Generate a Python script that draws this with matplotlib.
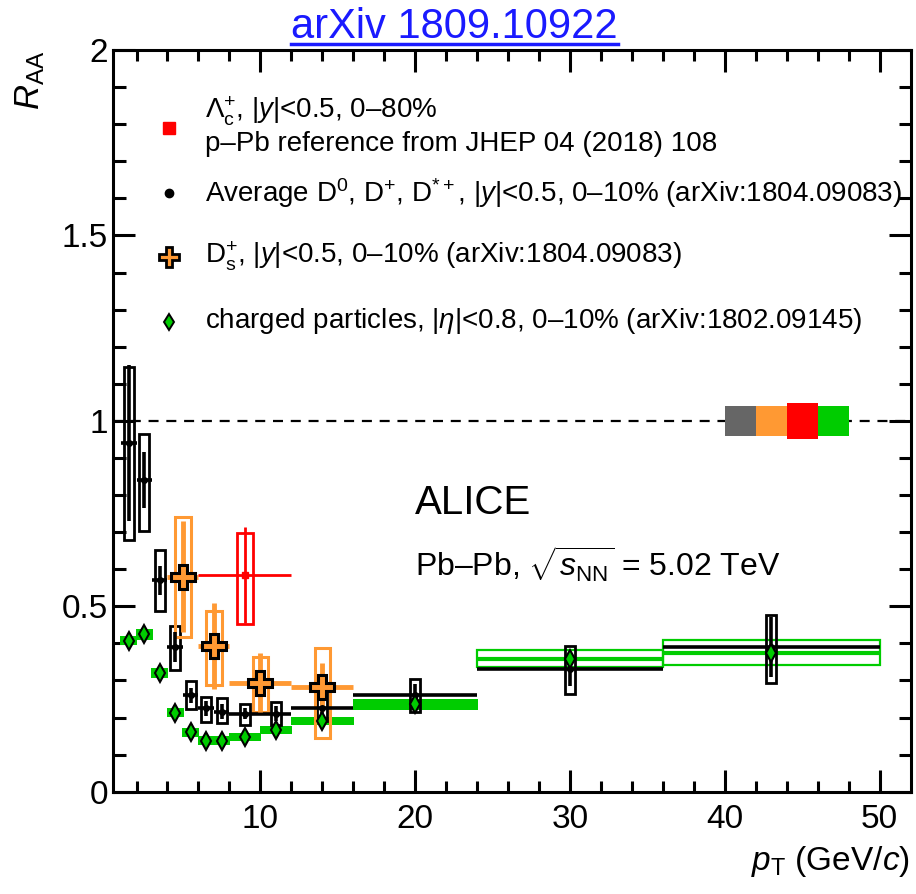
import numpy as np
import matplotlib.pyplot as plt
from matplotlib.patches import Rectangle
from matplotlib.lines import Line2D

plt.rcParams['font.family'] = ['Liberation Sans', 'DejaVu Sans']
plt.rcParams['mathtext.fontset'] = 'custom'
plt.rcParams['mathtext.rm'] = 'Liberation Sans'
plt.rcParams['mathtext.it'] = 'Liberation Sans:italic'
plt.rcParams['mathtext.bf'] = 'Liberation Sans:bold'

ORANGE = '#ff9933'
GREEN = '#00cc00'
RED = '#ff0000'
GRAY = '#666666'

# average D0, D+, D*+ (0-10%)
d_pt = np.array([1.5, 2.5, 3.5, 4.5, 5.5, 6.5, 7.5, 9, 11, 14, 20, 30, 43])
d_lo = np.array([1, 2, 3, 4, 5, 6, 7, 8, 10, 12, 16, 24, 36])
d_hi = np.array([2, 3, 4, 5, 6, 7, 8, 10, 12, 16, 24, 36, 50])
d_raa = np.array([0.94, 0.84, 0.57, 0.39, 0.26, 0.225, 0.216, 0.21, 0.21, 0.225, 0.26, 0.33, 0.39])
d_stat = np.array([0.21, 0.075, 0.04, 0.04, 0.02, 0.02, 0.02, 0.015, 0.02, 0.02, 0.03, 0.045, 0.08])
d_syst_dn = np.array([0.26, 0.136, 0.083, 0.063, 0.038, 0.036, 0.032, 0.029, 0.031, 0.035, 0.044, 0.066, 0.097])
d_syst_up = np.array([0.205, 0.124, 0.083, 0.058, 0.038, 0.031, 0.036, 0.027, 0.031, 0.05, 0.045, 0.064, 0.086])

# Ds+ (0-10%)
ds_pt = np.array([5, 7, 10, 14])
ds_lo = np.array([4, 6, 8, 12])
ds_hi = np.array([6, 8, 12, 16])
ds_raa = np.array([0.58, 0.394, 0.294, 0.283])
ds_stat = np.array([0.15, 0.116, 0.08, 0.065])
ds_syst_dn = np.array([0.164, 0.106, 0.078, 0.139])
ds_syst_up = np.array([0.161, 0.094, 0.068, 0.104])

# Lambda_c+ (0-80%)
lc_pt = np.array([9])
lc_lo = np.array([6])
lc_hi = np.array([12])
lc_raa = np.array([0.584])
lc_stat = np.array([0.13])
lc_syst_dn = np.array([0.132])
lc_syst_up = np.array([0.114])

# charged particles (0-10%)
ch_pt = np.array([1.5, 2.5, 3.5, 4.5, 5.5, 6.5, 7.5, 9, 11, 14, 20, 30, 43])
ch_lo = np.array([1, 2, 3, 4, 5, 6, 7, 8, 10, 12, 16, 24, 36])
ch_hi = np.array([2, 3, 4, 5, 6, 7, 8, 10, 12, 16, 24, 36, 50])
ch_raa = np.array([0.407, 0.424, 0.319, 0.213, 0.160, 0.1375, 0.1375, 0.147, 0.166, 0.191, 0.236, 0.359, 0.375])
ch_syst = np.array([0.0125, 0.0135, 0.0135, 0.0125, 0.012, 0.012, 0.012, 0.011, 0.010, 0.011, 0.0145, 0.023, 0.0335])
ch_open = np.array([False] * 11 + [True, True])

# normalisation uncertainties around unity
norm_lo = np.array([40, 42, 44, 46])
norm_hi = np.array([42, 44, 46, 48])
norm_unc = np.array([0.04, 0.04, 0.048, 0.04])
norm_col = [GRAY, ORANGE, RED, GREEN]

fig = plt.figure(figsize=(9.16, 8.94), dpi=100)
ax = fig.add_axes([0.1237, 0.1144, 0.8705, 0.8296])
ax.set_xlim(0.5, 52)
ax.set_ylim(0, 2)

ax.axhline(1, color='black', lw=1.6, dashes=(4.5, 3.5), zorder=1)

# normalisation boxes
for lo, hi, u, c in zip(norm_lo, norm_hi, norm_unc, norm_col):
    ax.add_patch(Rectangle((lo, 1 - u), hi - lo, 2 * u, facecolor=c, edgecolor='none', zorder=2))

# charged particle systematics
for x, lo, hi, r, s, op in zip(ch_pt, ch_lo, ch_hi, ch_raa, ch_syst, ch_open):
    if op:
        ax.add_patch(Rectangle((lo, r - s), hi - lo, 2 * s, facecolor='none', edgecolor=GREEN, lw=1.6, zorder=3))
        ax.plot([lo, hi], [r, r], color=GREEN, lw=3, zorder=3, solid_capstyle='butt')
    else:
        ax.add_patch(Rectangle((lo - 0.05, r - s), hi - lo + 0.1, 2 * s, facecolor=GREEN, edgecolor='none', zorder=3))

# D meson systematics and statistics
for x, r, dn, up in zip(d_pt, d_raa, d_syst_dn, d_syst_up):
    ax.add_patch(Rectangle((x - 0.33, r - dn), 0.66, dn + up, facecolor='none', edgecolor='black', lw=2, zorder=4))
ax.errorbar(d_pt, d_raa, xerr=[d_pt - d_lo, d_hi - d_pt], yerr=d_stat, fmt='o', color='black',
            ms=4, elinewidth=2.6, capsize=0, zorder=5)

# Ds
for x, r, dn, up in zip(ds_pt, ds_raa, ds_syst_dn, ds_syst_up):
    ax.add_patch(Rectangle((x - 0.5, r - dn), 1.0, dn + up, facecolor='none', edgecolor=ORANGE, lw=2.2, zorder=4))
ax.errorbar(ds_pt, ds_raa, xerr=[ds_pt - ds_lo, ds_hi - ds_pt], yerr=ds_stat, fmt='none', ecolor=ORANGE,
            elinewidth=3.5, capsize=0, zorder=5)

# Lambda_c
for x, r, dn, up in zip(lc_pt, lc_raa, lc_syst_dn, lc_syst_up):
    ax.add_patch(Rectangle((x - 0.5, r - dn), 1.0, dn + up, facecolor='none', edgecolor=RED, lw=2, zorder=4))
ax.errorbar(lc_pt, lc_raa, xerr=[lc_pt - lc_lo, lc_hi - lc_pt], yerr=lc_stat, fmt='s', color=RED,
            ms=4, elinewidth=2, capsize=0, zorder=5)

ax.plot(ch_pt, ch_raa, 'd', ms=9, mfc=GREEN, mec='black', mew=1.5, zorder=7)
ax.plot(ds_pt, ds_raa, 'P', ms=17, mfc=ORANGE, mec='black', mew=2.2, zorder=8)

# axes styling
for sp in ax.spines.values():
    sp.set_linewidth(2.2)
ax.set_xticks([10, 20, 30, 40, 50])
ax.set_xticks(np.arange(2, 52, 2), minor=True)
ax.set_yticks([0, 0.5, 1, 1.5, 2])
ax.set_yticklabels(['0', '0.5', '1', '1.5', '2'])
ax.set_yticks(np.arange(0, 2.01, 0.1), minor=True)
ax.tick_params(which='both', direction='in', top=True, right=True, width=2.2, labelsize=24)
ax.tick_params(axis='x', which='major', length=16, pad=9)
ax.tick_params(axis='x', which='minor', length=8)
ax.tick_params(axis='y', which='major', length=16, pad=4)
ax.tick_params(axis='y', which='minor', length=9)

fig.text(0.033, 0.944, r'$R_{\rm AA}$', rotation=90, ha='center', va='top', fontsize=25)
fig.text(0.9934, 0.0268, r'$p_{\rm T}$ (GeV/$c$)', ha='right', va='baseline', fontsize=24)

# legend
lx, tx = 0.1845, 0.2238
fig.add_artist(Line2D([lx], [0.8568], marker='s', ms=8, color=RED, mec=RED))
fig.add_artist(Line2D([lx], [0.7845], marker='o', ms=6, color='black'))
fig.add_artist(Line2D([lx], [0.7125], marker='P', ms=15, mfc=ORANGE, mec='black', mew=2))
fig.add_artist(Line2D([lx], [0.6402], marker='d', ms=8, mfc=GREEN, mec='black', mew=1.4))
fs = 20
fig.text(tx, 0.868, r'$\Lambda_{\rm c}^{+}$, |$y$|<0.5, 0–80%', fontsize=fs, va='baseline')
fig.text(tx, 0.8314, 'p–Pb reference from JHEP 04 (2018) 108', fontsize=fs, va='baseline')
fig.text(tx, 0.7744, r'Average D$^{0}$, D$^{+}$, D$^{*+}$, |$y$|<0.5, 0–10% (arXiv:1804.09083)', fontsize=fs, va='baseline')
fig.text(tx, 0.7047, r'D$_{\rm s}^{+}$, |$y$|<0.5, 0–10% (arXiv:1804.09083)', fontsize=fs, va='baseline')
fig.text(tx, 0.6328, r'charged particles, |$\eta$|<0.8, 0–10% (arXiv:1802.09145)', fontsize=fs, va='baseline')

fig.text(0.453, 0.4248, 'ALICE', fontsize=29, va='baseline')
fig.text(0.453, 0.355, r'Pb–Pb, $\sqrt{s_{\rm NN}}$ = 5.02 TeV', fontsize=23, va='baseline')

# linked title, underlined
title = fig.text(0.496, 0.9575, 'arXiv 1809.10922', fontsize=30, color='#1a1aff', ha='center', va='baseline')
fig.canvas.draw()
bb = title.get_window_extent().transformed(fig.transFigure.inverted())
uy = 0.9575 - 6 / 894
fig.add_artist(Line2D([bb.x0, bb.x1], [uy, uy], color='#1a1aff', lw=2.5))

fig.savefig('out.png', dpi=100)
